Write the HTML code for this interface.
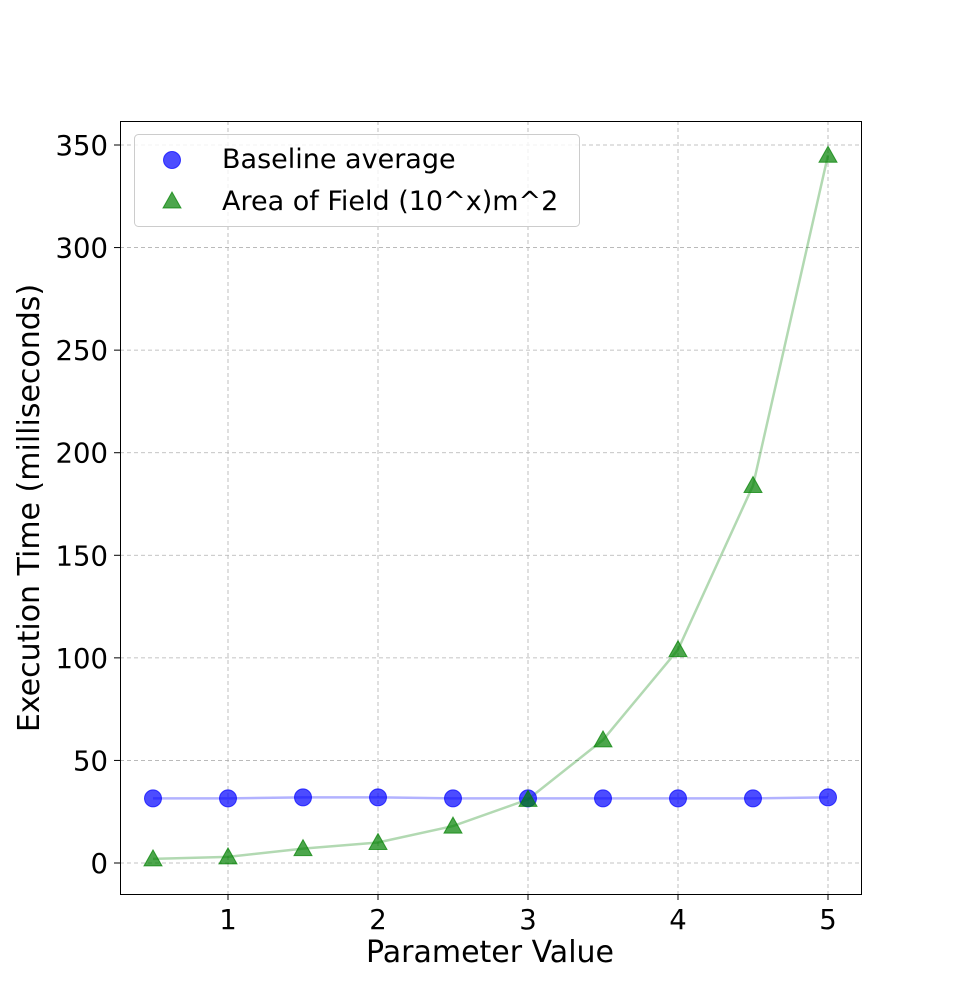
<!DOCTYPE html>
<html><head><meta charset="utf-8"><style>
body{margin:0;background:#fff;}
svg{display:block;font-family:"DejaVu Sans","Liberation Sans",sans-serif;}
</style></head><body>
<svg id="chart" width="957" height="1005">
<g id="grid"></g>
<g id="series"></g>
<rect x="120.5" y="121.5" width="741" height="773" fill="none" stroke="#000" stroke-width="1"/>
<g id="ticks"></g>
<text x="490" y="962" font-size="30" text-anchor="middle">Parameter Value</text>
<text transform="translate(39,508) rotate(-90)" font-size="30" text-anchor="middle">Execution Time (milliseconds)</text>
<g>
<rect x="134.5" y="134.5" width="445" height="92" rx="4" fill="#fff" fill-opacity="0.8" stroke="#ccc"/>
<circle cx="172" cy="160" r="8.5" fill="#0000ff" fill-opacity="0.7" stroke="#0000ff" stroke-opacity="0.7"/>
<text x="222" y="168" font-size="27">Baseline average</text>
<polygon points="172,192 181,208 163,208" fill="#008000" fill-opacity="0.7" stroke="#008000" stroke-opacity="0.7"/>
<text x="222" y="210" font-size="27">Area of Field (10^x)m^2</text>
</g>
</svg>
<script>
const xs=[0.5,1,1.5,2,2.5,3,3.5,4,4.5,5];
const baseline=[31.5,31.5,32,32,31.5,31.5,31.5,31.5,31.5,32];
const area=[2,3,7,10,18,31,60,104,184,345];
const xTicks=[1,2,3,4,5];
const yTicks=[0,50,100,150,200,250,300,350];
const X=v=>228+(v-1)*150;
const Y=v=>863-v*718/350;
const NS="http://www.w3.org/2000/svg";
function mk(parent,tag,attrs){const e=document.createElementNS(NS,tag);for(const k in attrs)e.setAttribute(k,attrs[k]);document.getElementById(parent).appendChild(e);return e;}
xTicks.forEach(t=>{
 const g=mk('grid','line',{x1:X(t),x2:X(t),y1:121,y2:894,stroke:'#b0b0b0','stroke-dasharray':'4,3','stroke-width':0.8});
 
 
 const tk=mk('ticks','line',{x1:X(t),x2:X(t),y1:894,y2:900,stroke:'#000'});
 
 
 const tx=mk('ticks','text',{x:X(t),y:929,'font-size':27.5,'text-anchor':'middle'});tx.textContent=t;
 
 
});
yTicks.forEach(t=>{
 const g=mk('grid','line',{x1:120,x2:861,y1:Y(t),y2:Y(t),stroke:'#b0b0b0','stroke-dasharray':'4,3','stroke-width':0.8});
 
 
 const tk=mk('ticks','line',{x1:114,x2:120,y1:Y(t),y2:Y(t),stroke:'#000'});
 
 
 const tx=mk('ticks','text',{x:108,y:Y(t)+10,'font-size':27.5,'text-anchor':'end'});tx.textContent=t;
 
 
});
const bl=mk('series','polyline',{points:xs.map((x,i)=>X(x)+','+Y(baseline[i])).join(' '),fill:'none',stroke:'#0000ff','stroke-opacity':0.3,'stroke-width':2.5});


const al=mk('series','polyline',{points:xs.map((x,i)=>X(x)+','+Y(area[i])).join(' '),fill:'none',stroke:'#008000','stroke-opacity':0.3,'stroke-width':2.5});


xs.forEach((x,i)=>{
 const c=mk('series','circle',{cx:X(x),cy:Y(baseline[i]),r:8.5,fill:'#0000ff','fill-opacity':0.7,stroke:'#0000ff','stroke-opacity':0.7});
 
 
});
xs.forEach((x,i)=>{
 const cx=X(x),cy=Y(area[i]);
 const p=mk('series','polygon',{points:`${cx},${cy-9} ${cx+9},${cy+7} ${cx-9},${cy+7}`,fill:'#008000','fill-opacity':0.7,stroke:'#008000','stroke-opacity':0.7});
 
 
});
</script>
</body></html>
